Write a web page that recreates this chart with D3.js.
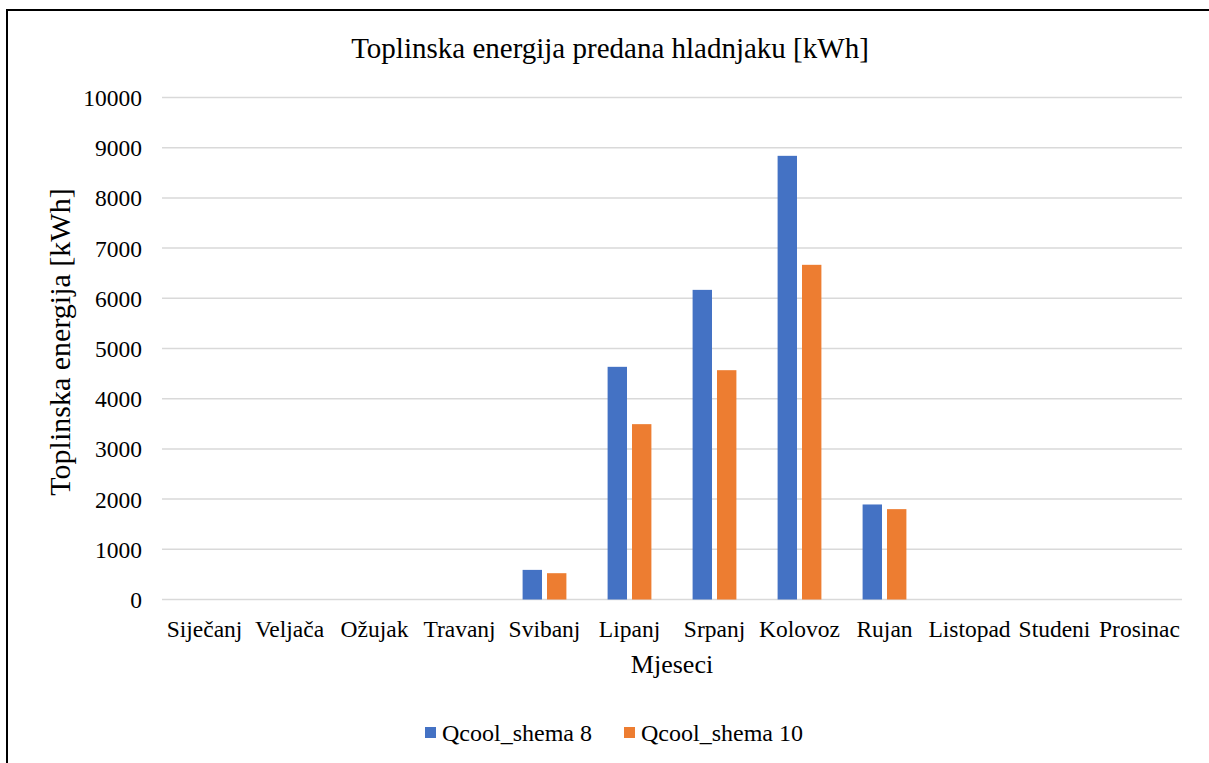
<!DOCTYPE html>
<html>
<head>
<meta charset="utf-8">
<script src="https://cdn.jsdelivr.net/npm/d3@7"></script>
<style>
  html, body { margin: 0; padding: 0; background: #fff; }
  svg { display: block; }
  text { font-family: "Liberation Serif", "Times New Roman", serif; fill: #000; }
</style>
</head>
<body>
<svg id="chart" width="1209" height="763"></svg>
<script>
const months = ["Siječanj", "Veljača", "Ožujak", "Travanj", "Svibanj", "Lipanj", "Srpanj", "Kolovoz", "Rujan", "Listopad", "Studeni", "Prosinac"];
const seriesNames = ["Qcool_shema 8", "Qcool_shema 10"];
const shema8 = [0, 0, 0, 0, 590, 4635, 6168, 8838, 1893, 0, 0, 0];
const shema10 = [0, 0, 0, 0, 524, 3493, 4568, 6667, 1800, 0, 0, 0];
const yTicks = [0, 1000, 2000, 3000, 4000, 5000, 6000, 7000, 8000, 9000, 10000];
const colors = ["#4472C4", "#ED7D31"];

const title = "Toplinska energija predana hladnjaku [kWh]";
const yTitle = "Toplinska energija [kWh]";
const xTitle = "Mjeseci";

const svg = d3.select("#chart");
const W = 1209, H = 763;
const plot = { left: 162, right: 1182, top: 97.5, bottom: 599.5 };

// outer frame (extends past right/bottom edges)
svg.append("rect")
  .attr("x", 7).attr("y", 10)
  .attr("width", W + 20).attr("height", H + 20)
  .attr("fill", "none").attr("stroke", "#000").attr("stroke-width", 2);

const x = d3.scaleBand().domain(months).range([plot.left, plot.right]).paddingInner(0).paddingOuter(0);
const y = d3.scaleLinear().domain([0, 10000]).range([plot.bottom, plot.top]);

// gridlines
svg.append("g").selectAll("line").data(yTicks).join("line")
  .attr("x1", plot.left).attr("x2", plot.right)
  .attr("y1", d => y(d)).attr("y2", d => y(d))
  .attr("stroke", "#D9D9D9").attr("stroke-width", 1.5);

// y axis tick labels
const yAxis = d3.axisLeft(y).tickValues(yTicks).tickSize(0).tickPadding(0).tickFormat(d3.format("d"));
const gy = svg.append("g").attr("transform", `translate(142,0)`).call(yAxis);
gy.select(".domain").remove();
gy.selectAll("text").attr("font-size", 23.5).attr("font-family", "Liberation Serif").attr("fill", "#000").attr("dy", "0.34em");

// bars
const barW = 19.4, gap = 5;
const data = [shema8, shema10];
data.forEach((vals, si) => {
  svg.append("g").selectAll("rect").data(vals.map((v, i) => ({ m: months[i], v })).filter(d => d.v > 0)).join("rect")
    .attr("x", d => x(d.m) + x.bandwidth() / 2 + (si === 0 ? -(barW + gap / 2) : gap / 2))
    .attr("y", d => y(d.v))
    .attr("width", barW)
    .attr("height", d => y(0) - y(d.v))
    .attr("fill", colors[si]);
});

// x axis labels
const xAxis = d3.axisBottom(x).tickSize(0).tickPadding(0);
const gx = svg.append("g").attr("transform", `translate(0,637)`).call(xAxis);
gx.select(".domain").remove();
gx.selectAll("text").attr("font-size", 23.5).attr("font-family", "Liberation Serif").attr("fill", "#000").attr("y", 0).attr("dy", "0");

// titles
svg.append("text").attr("x", 610).attr("y", 58).attr("text-anchor", "middle")
  .attr("font-size", 29).text(title);
svg.append("text").attr("x", 672).attr("y", 673).attr("text-anchor", "middle")
  .attr("font-size", 26).text(xTitle);
svg.append("text").attr("transform", "translate(70,342) rotate(-90)").attr("text-anchor", "middle")
  .attr("font-size", 30).text(yTitle);

// legend
const legend = [{ x: 425, name: seriesNames[0], c: colors[0] }, { x: 624, name: seriesNames[1], c: colors[1] }];
const lg = svg.append("g").selectAll("g").data(legend).join("g");
lg.append("rect").attr("x", d => d.x).attr("y", 727).attr("width", 11).attr("height", 11).attr("fill", d => d.c);
lg.append("text").attr("x", d => d.x + 17).attr("y", 741).attr("font-size", 24).text(d => d.name);
</script>
</body>
</html>
